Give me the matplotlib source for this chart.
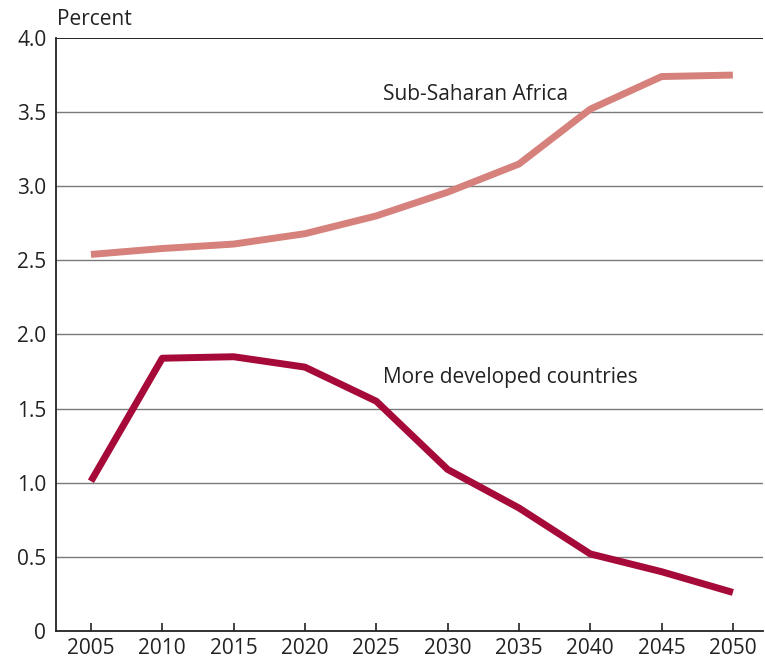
import matplotlib.pyplot as plt

years = [2005, 2010, 2015, 2020, 2025, 2030, 2035, 2040, 2045, 2050]
ssa = [2.54, 2.58, 2.61, 2.68, 2.80, 2.96, 3.15, 3.52, 3.74, 3.75]
mdc = [1.01, 1.84, 1.85, 1.78, 1.55, 1.09, 0.83, 0.52, 0.40, 0.26]
yticks = [0, 0.5, 1.0, 1.5, 2.0, 2.5, 3.0, 3.5, 4.0]
ylabels = ["0", "0.5", "1.0", "1.5", "2.0", "2.5", "3.0", "3.5", "4.0"]

plt.rcParams["font.family"] = ["Open Sans", "DejaVu Sans"]
FS = 15
TXT = "#222222"

fig = plt.figure(figsize=(7.65, 6.61), dpi=100)
ax = fig.add_axes([0.0732, 0.0454, 0.924, 0.8971])

for y in yticks[1:]:
    ax.axhline(y, color="black" if y == 4.0 else "#7a7a7a",
               linewidth=1.2 if y == 4.0 else 1.0, zorder=1)

ax.plot(years, ssa, color="#d6817c", linewidth=5, solid_capstyle="butt", zorder=3)
ax.plot(years, mdc, color="#a50a38", linewidth=5, solid_capstyle="butt", zorder=3)

ax.text(2025.5, 3.62, "Sub-Saharan Africa", fontsize=FS, color=TXT,
        ha="left", va="center")
ax.text(2025.5, 1.71, "More developed countries", fontsize=FS, color=TXT,
        ha="left", va="center")

ax.set_xlim(2002.55, 2052.1)
ax.set_ylim(0, 4.0)
ax.set_xticks(years)
ax.set_yticks(yticks)
ax.set_yticklabels(ylabels)
ax.tick_params(axis="x", direction="in", length=6, width=1.2, labelsize=FS,
               pad=5, colors=TXT)
ax.tick_params(axis="y", length=0, labelsize=FS, pad=7, colors=TXT)
for s in ("top", "right"):
    ax.spines[s].set_visible(False)
for s in ("left", "bottom"):
    ax.spines[s].set_linewidth(1.3)
    ax.spines[s].set_color(TXT)

fig.text(0.074, 0.955, "Percent", fontsize=FS, color=TXT, ha="left", va="bottom")

fig.savefig("out.png", dpi=100)
